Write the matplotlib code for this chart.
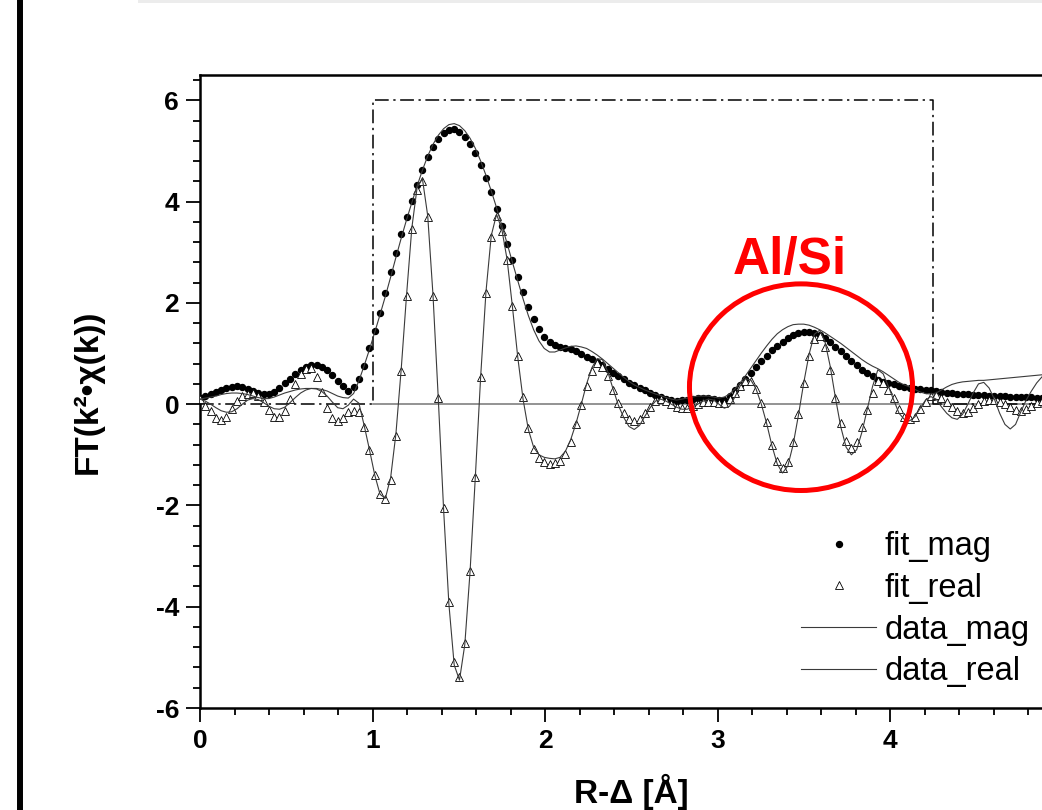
import numpy as np
import matplotlib
matplotlib.use("Agg")
import matplotlib.pyplot as plt
from matplotlib.patches import Ellipse, Rectangle
from matplotlib.lines import Line2D
from matplotlib.ticker import MultipleLocator

plt.rcParams["font.family"] = ["Liberation Sans", "DejaVu Sans"]
plt.rcParams["axes.unicode_minus"] = False

# FT grid spacing in R (Angstrom)
r_step = 0.0307

fit_mag = [
    0.12, 0.16, 0.20, 0.24, 0.28, 0.32, 0.34, 0.35, 0.33, 0.30,
    0.26, 0.22, 0.20, 0.20, 0.24, 0.32, 0.41, 0.50, 0.59, 0.67,
    0.73, 0.77, 0.77, 0.74, 0.67, 0.58, 0.46, 0.35, 0.26, 0.33,
    0.50, 0.76, 1.10, 1.44, 1.80, 2.20, 2.60, 2.99, 3.36, 3.70,
    4.02, 4.33, 4.63, 4.88, 5.08, 5.24, 5.35, 5.42, 5.43, 5.38,
    5.28, 5.13, 4.95, 4.73, 4.47, 4.18, 3.86, 3.52, 3.17, 2.84,
    2.51, 2.21, 1.92, 1.68, 1.48, 1.33, 1.22, 1.16, 1.13, 1.11,
    1.08, 1.04, 0.99, 0.94, 0.89, 0.84, 0.78, 0.70, 0.62, 0.56,
    0.49, 0.42, 0.37, 0.32, 0.28, 0.23, 0.18, 0.14, 0.11, 0.08,
    0.07, 0.08, 0.09, 0.11, 0.12, 0.13, 0.13, 0.11, 0.08, 0.09,
    0.16, 0.27, 0.38, 0.49, 0.61, 0.73, 0.85, 0.96, 1.06, 1.15,
    1.23, 1.30, 1.36, 1.40, 1.42, 1.42, 1.40, 1.36, 1.30, 1.22,
    1.13, 1.04, 0.95, 0.86, 0.77, 0.68, 0.61, 0.55, 0.47, 0.44,
    0.41, 0.39, 0.36, 0.34, 0.32, 0.30, 0.29, 0.28, 0.27, 0.26,
    0.24, 0.23, 0.22, 0.21, 0.20, 0.20, 0.19, 0.18, 0.18, 0.17,
    0.17, 0.16, 0.16, 0.15, 0.15, 0.14, 0.14, 0.14, 0.13, 0.13, 0.13,
]

fit_real = [
    0.10, -0.03, -0.14, -0.27, -0.31, -0.25, -0.10, 0.07, 0.16, 0.21,
    0.22, 0.17, 0.05, -0.11, -0.25, -0.25, -0.13, 0.10, 0.40, 0.59,
    0.70, 0.72, 0.54, 0.25, -0.07, -0.28, -0.33, -0.28, -0.16, -0.14,
    -0.16, -0.46, -0.90, -1.40, -1.78, -1.88, -1.50, -0.63, 0.66, 2.14,
    3.45, 4.22, 4.41, 3.69, 2.14, 0.13, -2.05, -3.91, -5.10, -5.38,
    -4.72, -3.30, -1.43, 0.53, 2.19, 3.30, 3.72, 3.42, 2.85, 1.93,
    0.96, 0.14, -0.48, -0.88, -1.07, -1.15, -1.18, -1.17, -1.12, -0.98,
    -0.74, -0.40, -0.02, 0.36, 0.66, 0.82, 0.74, 0.56, 0.28, 0.02,
    -0.17, -0.29, -0.33, -0.29, -0.18, -0.05, 0.07, 0.10, 0.06, 0.00,
    -0.05, -0.08, -0.07, -0.03, 0.01, 0.04, 0.05, 0.04, 0.02, 0.02,
    0.10, 0.22, 0.36, 0.46, 0.45, 0.30, 0.03, -0.36, -0.80, -1.12,
    -1.27, -1.14, -0.75, -0.20, 0.42, 0.95, 1.28, 1.35, 1.13, 0.68,
    0.12, -0.37, -0.72, -0.86, -0.74, -0.46, -0.12, 0.23, 0.45, 0.42,
    0.28, 0.12, -0.10, -0.26, -0.30, -0.26, -0.10, 0.05, 0.16, 0.18,
    0.12, 0.04, -0.05, -0.13, -0.18, -0.15, -0.07, 0.01, 0.07, 0.09,
    0.08, 0.05, 0.01, -0.06, -0.12, -0.13, -0.10, -0.04, 0.03, 0.07, 0.08,
]

data_mag = [
    0.10, 0.12, 0.14, 0.16, 0.19, 0.21, 0.22, 0.22, 0.21, 0.19,
    0.16, 0.13, 0.11, 0.11, 0.14, 0.18, 0.22, 0.25, 0.28, 0.30,
    0.31, 0.31, 0.31, 0.29, 0.26, 0.21, 0.16, 0.13, 0.12, 0.21,
    0.46, 0.76, 1.08, 1.42, 1.77, 2.13, 2.51, 2.90, 3.28, 3.64,
    3.98, 4.31, 4.62, 4.90, 5.13, 5.31, 5.44, 5.52, 5.54, 5.50,
    5.40, 5.25, 5.05, 4.80, 4.52, 4.21, 3.88, 3.53, 3.17, 2.80,
    2.44, 2.08, 1.75, 1.47, 1.25, 1.10, 1.03, 1.03, 1.07, 1.11,
    1.14, 1.15, 1.13, 1.10, 1.04, 0.97, 0.89, 0.80, 0.71, 0.62,
    0.53, 0.45, 0.38, 0.33, 0.28, 0.24, 0.20, 0.17, 0.13, 0.10,
    0.08, 0.10, 0.12, 0.14, 0.16, 0.16, 0.16, 0.14, 0.12, 0.14,
    0.20, 0.30, 0.42, 0.56, 0.71, 0.86, 1.01, 1.15, 1.28, 1.39,
    1.47, 1.53, 1.57, 1.58, 1.58, 1.56, 1.52, 1.47, 1.41, 1.34,
    1.27, 1.20, 1.12, 1.04, 0.96, 0.88, 0.81, 0.75, 0.70, 0.64,
    0.57, 0.50, 0.43, 0.38, 0.34, 0.29, 0.24, 0.21, 0.20, 0.22,
    0.28, 0.34, 0.39, 0.42, 0.44, 0.45, 0.46, 0.47, 0.47, 0.48,
    0.49, 0.50, 0.51, 0.52, 0.53, 0.54, 0.55, 0.56, 0.57, 0.58, 0.59,
]

data_real = [
    0.10, 0.06, 0.00, -0.07, -0.13, -0.16, -0.15, -0.09, 0.00, 0.08,
    0.11, 0.09, 0.03, -0.04, -0.09, -0.10, -0.06, 0.03, 0.13, 0.22,
    0.28, 0.31, 0.30, 0.25, 0.16, 0.04, -0.07, -0.09, -0.02, 0.10,
    0.02, -0.42, -0.90, -1.40, -1.78, -1.86, -1.45, -0.58, 0.70, 2.15,
    3.48, 4.28, 4.45, 3.72, 2.15, 0.10, -2.08, -3.95, -5.15, -5.45,
    -4.75, -3.30, -1.42, 0.55, 2.22, 3.33, 3.75, 3.45, 2.85, 1.92,
    0.93, 0.10, -0.50, -0.85, -1.00, -1.05, -1.07, -1.08, -1.05, -0.93,
    -0.70, -0.38, 0.00, 0.40, 0.72, 0.90, 0.88, 0.64, 0.30, -0.02,
    -0.26, -0.44, -0.50, -0.42, -0.24, -0.07, 0.06, 0.10, 0.06, 0.00,
    -0.06, -0.10, -0.10, -0.06, 0.00, 0.06, 0.10, 0.08, 0.00, -0.08,
    -0.04, 0.14, 0.36, 0.50, 0.48, 0.30, 0.00, -0.38, -0.82, -1.18,
    -1.36, -1.22, -0.80, -0.22, 0.42, 0.98, 1.38, 1.46, 1.24, 0.75,
    0.12, -0.45, -0.85, -1.00, -0.90, -0.55, -0.10, 0.35, 0.68, 0.60,
    0.35, 0.08, -0.18, -0.30, -0.33, -0.25, -0.08, 0.08, 0.15, 0.10,
    -0.05, -0.18, -0.27, -0.30, -0.20, 0.00, 0.22, 0.40, 0.43, 0.32,
    0.10, -0.18, -0.40, -0.49, -0.40, -0.15, 0.08, 0.26, 0.42, 0.54, 0.60,
]

# FT window (dash-dot)
win_r = [0.0, 1.0, 1.0, 4.25, 4.25, 5.0]
win_y = [0, 0, 6, 6, 0, 0]

# x ticks; the one at 5 falls outside the cropped picture
x_ticks = [0, 1, 2, 3, 4, 5]
x_tick_labels = ["0", "1", "2", "3", "4", ""]

r = np.arange(len(fit_mag)) * r_step

fig = plt.figure(figsize=(10.42, 8.10), dpi=100)
ax = fig.add_axes([200 / 1042, 102 / 810, 862.5 / 1042, 633 / 810])

ax.axhline(0, xmin=0.2, color="#808080", lw=1.2, zorder=1)
ax.plot(win_r, win_y, color="black", lw=1.1, ls=(0, (9, 3, 1.5, 3)), zorder=2)

ax.plot(r, fit_mag, ls="none", marker="o", ms=4.3, color="black",
        label="fit_mag", zorder=3)
ax.plot(r, fit_real, ls="none", marker="^", ms=5.5, mfc="white",
        mec="black", mew=0.6, label="fit_real", zorder=3)
ax.plot(r, data_mag, color="#3a3a3a", lw=0.8, label="data_mag", zorder=4)
ax.plot(r, data_real, color="#3a3a3a", lw=0.8, label="data_real", zorder=4)

# Al/Si shell marker
ax.add_patch(Ellipse((3.484, 0.335), 1.293, 4.08, fill=False,
                     ec="red", lw=3.6, zorder=6))
ax.text(3.42, 2.57, "Al/Si", color="red", fontsize=37, fontweight="bold",
        ha="center", va="baseline", zorder=6)

ax.set_xlim(0, 5)
ax.set_ylim(-6, 6.5)
ax.set_xticks(x_ticks, x_tick_labels)
ax.xaxis.set_minor_locator(MultipleLocator(0.2))
ax.yaxis.set_major_locator(MultipleLocator(2))
ax.yaxis.set_minor_locator(MultipleLocator(0.4))
ax.tick_params(which="both", direction="out", top=False, right=False, width=1.3)
ax.tick_params(which="major", length=10, labelsize=19, pad=5)
ax.tick_params(which="minor", length=5)
for lab in ax.get_xticklabels() + ax.get_yticklabels():
    lab.set_fontweight("bold")
for sp in ax.spines.values():
    sp.set_linewidth(1.8)

ax.set_xlabel("R-Δ [Å]", fontsize=24, fontweight="bold")
ax.xaxis.set_label_coords(0.5, -0.104)
ax.set_ylabel("FT(k²•χ(k))", fontsize=24, fontweight="bold")
ax.yaxis.set_label_coords(-0.112, 0.5)

ax.legend(loc="upper left", bbox_to_anchor=(801 / 1042, 1 - 531 / 810),
          bbox_transform=fig.transFigure, frameon=False, fontsize=23.5,
          handlelength=2.3, handletextpad=0.27, labelspacing=0.33,
          borderpad=0, borderaxespad=0)

# frame bits from the original screenshot
fig.add_artist(Line2D([20.3 / 1042] * 2, [0, 1], transform=fig.transFigure,
                      color="black", lw=4.3))
fig.add_artist(Rectangle((138 / 1042, 1 - 3 / 810), 1, 3 / 810,
                         transform=fig.transFigure, color="#ececec", lw=0))

fig.savefig("out.png", dpi=100)
plt.close(fig)
